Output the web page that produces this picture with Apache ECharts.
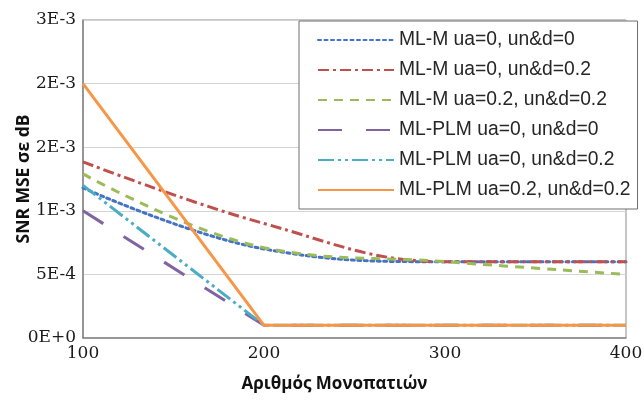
<!DOCTYPE html>
<html>
<head>
<meta charset="utf-8">
<script src="https://cdn.jsdelivr.net/npm/echarts@6/dist/echarts.min.js"></script>
<style>
  html, body { margin: 0; padding: 0; background: #ffffff; }
  #chart { width: 644px; height: 403px; }
</style>
</head>
<body>
<div id="chart"></div>
<script>
// Number of paths on the x axis
const paths = [100, 200, 300, 400];

// SNR MSE (dB) per estimator / uncertainty setting
const mlM_ua0_und0 = [1.18e-3, 7.0e-4, 6.0e-4, 6.0e-4];
const mlM_ua0_und02 = [1.385e-3, 9.0e-4, 6.0e-4, 6.0e-4];
const mlM_ua02_und02 = [1.29e-3, 7.1e-4, 6.0e-4, 5.0e-4];
const mlPLM_ua0_und0 = [1.0e-3, 1.0e-4, 1.0e-4, 1.0e-4];
const mlPLM_ua0_und02 = [1.2e-3, 1.0e-4, 1.0e-4, 1.0e-4];
const mlPLM_ua02_und02 = [2.0e-3, 1.0e-4, 1.0e-4, 1.0e-4];

const seriesNames = [
  'ML-M ua=0, un&d=0',
  'ML-M ua=0, un&d=0.2',
  'ML-M ua=0.2, un&d=0.2',
  'ML-PLM ua=0, un&d=0',
  'ML-PLM ua=0, un&d=0.2',
  'ML-PLM ua=0.2, un&d=0.2'
];

const yTicks = { min: 0, max: 0.0025, step: 0.0005 };

function pairs(values) {
  return paths.map((x, i) => [x, values[i]]);
}

// Scientific label like "2E-3"
function sci(v) {
  return v.toExponential(0).replace('e', 'E');
}

const styles = [
  { color: '#4472C4', type: [3, 3.5], cap: 'round', smooth: 0.4 },
  { color: '#C0504D', type: [11, 4, 3, 4], cap: 'butt', smooth: 0.4 },
  { color: '#9BBB59', type: [9, 7], cap: 'butt', smooth: 0.4 },
  { color: '#8064A2', type: [24, 24], cap: 'butt', smooth: false },
  { color: '#4BACC6', type: [16, 4, 3, 4, 3, 4], cap: 'butt', smooth: false },
  { color: '#F79646', type: 'solid', cap: 'butt', smooth: false }
];

const dataSets = [mlM_ua0_und0, mlM_ua0_und02, mlM_ua02_und02,
  mlPLM_ua0_und0, mlPLM_ua0_und02, mlPLM_ua02_und02];

const chart = echarts.init(document.getElementById('chart'), null, { renderer: 'canvas' });

chart.setOption({
  animation: false,
  backgroundColor: '#ffffff',
  grid: {
    left: 83, right: 18, top: 20, bottom: 65,
    outerBoundsMode: 'none', containLabel: false,
    show: true, borderColor: '#8c8c8c', borderWidth: 1
  },
  legend: {
    orient: 'vertical',
    left: 299, top: 21,
    padding: [9, 7, 9, 18],
    itemWidth: 76, itemHeight: 14, itemGap: 10,
    backgroundColor: '#ffffff',
    borderColor: '#6e6e6e', borderWidth: 1,
    itemStyle: { color: 'rgba(0,0,0,0)', borderWidth: 0, opacity: 0 },
    textStyle: { fontFamily: 'Liberation Sans', fontSize: 19.3, color: '#262626', lineHeight: 20 },
    data: seriesNames
  },
  xAxis: {
    type: 'value', min: 100, max: 400, interval: 100,
    name: 'Αριθμός Μονοπατιών', nameLocation: 'middle', nameGap: 38,
    nameMoveOverlap: false,
    nameTextStyle: { fontFamily: 'Open Sans', fontWeight: 'bold', fontSize: 17, color: '#111', padding: [0, 40, 0, 0] },
    axisLine: { lineStyle: { color: '#868686', width: 1.5 } },
    axisTick: { show: false },
    splitLine: { show: false },
    axisLabel: { fontFamily: 'DejaVu Serif', fontSize: 17, color: '#1a1a1a', margin: 7 }
  },
  yAxis: {
    type: 'value', min: yTicks.min, max: yTicks.max, interval: yTicks.step,
    name: 'SNR MSE σε dB', nameLocation: 'middle', nameGap: 50,
    nameMoveOverlap: false,
    nameTextStyle: { fontFamily: 'Open Sans', fontWeight: 'bold', fontSize: 17.5, color: '#111' },
    axisLine: { show: true, lineStyle: { color: '#868686', width: 1.5 } },
    axisTick: { show: false },
    splitLine: { show: true, lineStyle: { color: '#d4d4d4', width: 1 } },
    axisLabel: { fontFamily: 'DejaVu Serif', fontSize: 17, color: '#1a1a1a', margin: 7, formatter: sci }
  },
  series: dataSets.map((vals, i) => ({
    name: seriesNames[i],
    type: 'line',
    data: pairs(vals),
    smooth: styles[i].smooth,
    symbol: 'none',
    showSymbol: false,
    z: 2 + i,
    lineStyle: { color: styles[i].color, width: 3, type: styles[i].type, cap: styles[i].cap },
    itemStyle: { color: styles[i].color }
  }))
});
</script>
</body>
</html>
